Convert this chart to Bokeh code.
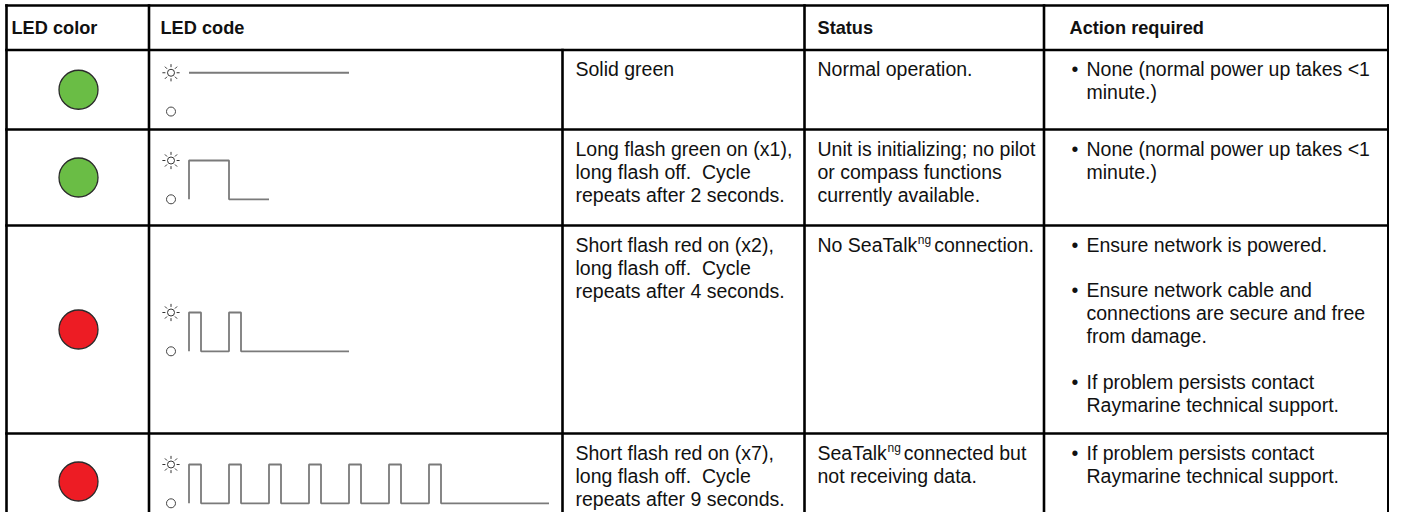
from bokeh.plotting import figure
from bokeh.models import Range1d
from bokeh.core.properties import value
from bokeh.embed import file_html
from bokeh.resources import INLINE
import math

# ---------------- data ----------------
headers = ["LED color", "LED code", "Status", "Action required"]
led_colors = ["#6ABD45", "#6ABD45", "#ED1C24", "#ED1C24"]

code_texts = [
    ["Solid green"],
    ["Long flash green on (x1),", "long flash off.\u00a0 Cycle", "repeats after 2 seconds."],
    ["Short flash red on (x2),", "long flash off.\u00a0 Cycle", "repeats after 4 seconds."],
    ["Short flash red on (x7),", "long flash off.\u00a0 Cycle", "repeats after 9 seconds."],
]
status_texts = [
    ["Normal operation."],
    ["Unit is initializing; no pilot", "or compass functions", "currently available."],
    ["No SeaTalk^ng connection."],
    ["SeaTalk^ng connected but", "not receiving data."],
]
action_texts = [
    [["None (normal power up takes <1", "minute.)"]],
    [["None (normal power up takes <1", "minute.)"]],
    [["Ensure network is powered."],
     ["Ensure network cable and", "connections are secure and free", "from damage."],
     ["If problem persists contact", "Raymarine technical support."]],
    [["If problem persists contact", "Raymarine technical support."]],
]
# LED code waveforms (seconds): flash-on start times and durations, total cycle
wave_on_start = [[0.0], [0.0], [0.0, 1.0], [0.0, 1.0, 2.0, 3.0, 4.0, 5.0, 6.0]]
wave_on_len = [[4.0], [1.0], [0.3, 0.3], [0.3, 0.3, 0.3, 0.3, 0.3, 0.3, 0.3]]
wave_total = [4.0, 2.0, 4.0, 9.0]

# ---------------- layout (picture pixel coordinates) ----------------
col_x = [6, 148.5, 562, 804, 1043.5, 1387.8]
row_y = [5, 49.5, 129, 225, 433, 529]
TEXT_PAD = 19.0          # first text line centre below row line
line_h = 23.3
para_extra = 22.0
FONT = "Liberation Sans"
FS = 19.5
HFS = 18.2
SUP_FS = 12
ARIAL_W = {"N": .722, "o": .556, " ": .278, "S": .667, "e": .556, "a": .556,
           "T": .611, "l": .222, "k": .5}

def text_w(s, fs):
    return sum(ARIAL_W.get(c, .556) for c in s) * fs

p = figure(width=1389, height=512, x_range=Range1d(0, 1389), y_range=Range1d(512, 0),
           output_backend="svg", toolbar_location=None, min_border=0,
           x_axis_location=None, y_axis_location=None, background_fill_color="white",
           border_fill_color="white")
p.grid.visible = False
p.outline_line_color = None

# grid lines
hx0, hx1, hy = [], [], []
for y in row_y[:-1]:
    hx0.append(col_x[0]); hx1.append(col_x[-1]); hy.append(y)
p.segment(x0=hx0, x1=hx1, y0=hy, y1=hy, line_color="black", line_width=2.6, line_cap="square")
vx, vy0, vy1 = [], [], []
for i, x in enumerate(col_x):
    vx.append(x)
    vy0.append(row_y[1] if i == 2 else row_y[0])
    vy1.append(row_y[-1])
p.segment(x0=vx, x1=vx, y0=vy0, y1=vy1, line_color="black", line_width=2.6, line_cap="square")

def add_text(xs, ys, texts, fs, bold=False, color="#111111"):
    p.text(x=xs, y=ys, text=texts, text_font=value(FONT), text_font_size=f"{fs}px",
           text_font_style="bold" if bold else "normal", text_baseline="middle",
           text_align="left", text_color=color)

# headers
hdr_x = [col_x[0] + 5, col_x[1] + 11.5, col_x[3] + 13, col_x[4] + 25.5]
add_text(hdr_x, [27.5] * 4, headers, HFS, bold=True)

CODE_X = col_x[2] + 13
STAT_X = col_x[3] + 13
BUL_X = col_x[4] + 27.5
ACT_X = col_x[4] + 42.5

tx, ty, tt = [], [], []
sx, sy, st = [], [], []
bx, by = [], []
for r in range(4):
    y0 = row_y[r + 1] + TEXT_PAD
    for k, line in enumerate(code_texts[r]):
        tx.append(CODE_X); ty.append(y0 + k * line_h); tt.append(line)
    for k, line in enumerate(status_texts[r]):
        yy = y0 + k * line_h
        if "^ng" in line:
            a, b = line.split("^ng")
            tx.append(STAT_X); ty.append(yy); tt.append(a)
            xs_sup = STAT_X + text_w(a, FS) - 1.5
            sx.append(xs_sup); sy.append(yy - 5); st.append("ng")
            tx.append(xs_sup + text_w("ng", SUP_FS) + 3.0); ty.append(yy); tt.append(b)
        else:
            tx.append(STAT_X); ty.append(yy); tt.append(line)
    yy = y0
    for para in action_texts[r]:
        bx.append(BUL_X); by.append(yy)
        for line in para:
            tx.append(ACT_X); ty.append(yy); tt.append(line)
            yy += line_h
        yy += para_extra
add_text(tx, ty, tt, FS)
add_text(sx, sy, st, SUP_FS)
add_text(bx, by, ["\u2022"] * len(bx), FS)

# LED colour circles
cy = [(row_y[i + 1] + row_y[i + 2]) / 2 for i in range(4)]
p.scatter(x=[78] * 4, y=cy, marker="circle", size=39, fill_color=led_colors,
          line_color="#2b2b2b", line_width=1.3)

# waveforms
X0 = 188.5
PX_S = 40.0
ICON_X = 170.5
for r in range(4):
    hi = cy[r] - 17.0
    lo = cy[r] + 21.8
    starts, lens, total = wave_on_start[r], wave_on_len[r], wave_total[r]
    if len(starts) == 1 and starts[0] == 0 and lens[0] >= total:
        ts, lv = [0, total], [hi, hi]
    else:
        ts, lv = [], []
        for s, l in zip(starts, lens):
            ts += [s, s, s + l, s + l]
            lv += [lo, hi, hi, lo]
        ts.append(total); lv.append(lo)
    p.line(x=[X0 + t * PX_S for t in ts], y=lv, line_color="#7a7a7a", line_width=1.8)
    # sun (on) icon
    scx, scy = ICON_X, hi
    p.scatter(x=[scx], y=[scy], marker="circle", size=7, fill_color="white",
              line_color="#333333", line_width=1)
    rx0, ry0, rx1, ry1 = [], [], [], []
    for a in range(8):
        ang = a * math.pi / 4
        rx0.append(scx + 5.6 * math.cos(ang)); ry0.append(scy + 5.6 * math.sin(ang))
        rx1.append(scx + 8.6 * math.cos(ang)); ry1.append(scy + 8.6 * math.sin(ang))
    p.segment(x0=rx0, y0=ry0, x1=rx1, y1=ry1, line_color="#333333", line_width=1)
    # off icon
    p.scatter(x=[scx], y=[lo], marker="circle", size=9, fill_color="white",
              line_color="#444444", line_width=1)

open("out.html", "w").write(file_html(p, INLINE))
